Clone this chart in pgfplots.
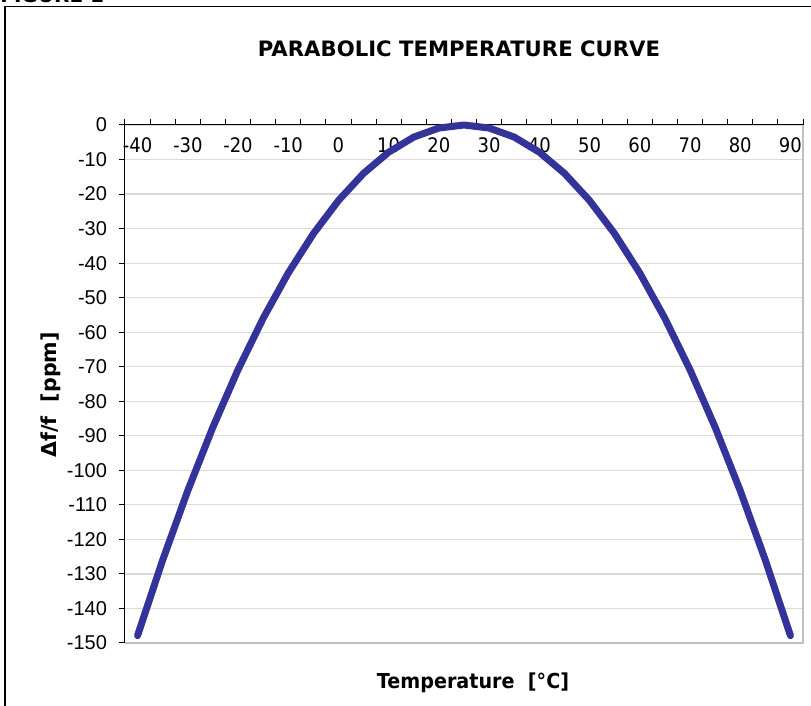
\documentclass[border=0pt]{standalone}
\usepackage{fontspec}
\setmainfont{DejaVu Sans}
\newfontfamily\tahoma{DejaVu Sans}[FakeStretch=0.9]
\newfontfamily\tahomaxl{DejaVu Sans}[FakeStretch=0.93]
\newfontfamily\arial{Liberation Sans}
\usepackage{pgfplots}
\usepackage{pgfplotstable}
\pgfplotsset{compat=1.18}
\definecolor{curvec}{RGB}{51,51,153}
\definecolor{gridc}{RGB}{217,217,217}
\definecolor{borderc}{RGB}{192,192,192}
\pgfplotstableread{
T dF
-40 -147.875
-35 -126
-30 -105.875
-25 -87.5
-20 -70.875
-15 -56
-10 -42.875
-5 -31.5
0 -21.875
5 -14
10 -7.875
15 -3.5
20 -0.875
25 0
30 -0.875
35 -3.5
40 -7.875
45 -14
50 -21.875
55 -31.5
60 -42.875
65 -56
70 -70.875
75 -87.5
80 -105.875
85 -126
90 -147.875
}\datatable
\begin{document}
\begin{tikzpicture}[x=1pt,y=1pt]
\begin{axis}[
 at={(62.5pt,-62.5pt)}, anchor=north west,
 scale only axis, width=339pt, height=259pt,
 xmin=-42.5, xmax=92.5, ymin=-150, ymax=0,
 axis line style={draw=none},
 xtick={-40,-30,...,90},
 xticklabels={-40,-30,-20,-10,0,10,20,30,40,50,60,70,80,90},
 minor xtick={-42.5,-37.5,...,92.5},
 xtick pos=right, xticklabel pos=right,
 major x tick style={draw=none},
 tick style={black, line width=0.5pt},
 xticklabel style={font=\tahoma\fontsize{10}{12}\selectfont, anchor=north, yshift=-5.7pt},
 ytick={-150,-140,...,0},
 yticklabels={-150,-140,-130,-120,-110,-100,-90,-80,-70,-60,-50,-40,-30,-20,-10,0},
 ytick pos=left,
 yticklabel style={font=\arial\fontsize{10}{12}\selectfont, xshift=-2.5pt},
 tick align=outside,
 major tick length=3pt, minor tick length=3pt,
 ymajorgrids, major grid style={gridc, line width=0.6pt},
 clip=false,
]
\draw[borderc, line width=1pt] (rel axis cs:0,0) -- (rel axis cs:1,0) -- (rel axis cs:1,1);
\draw[black, line width=0.5pt] (rel axis cs:0,0) -- (rel axis cs:0,1) -- (rel axis cs:1,1);
\addplot[curvec, line width=3.5pt, line cap=round, line join=round] table[x=T,y=dF]{\datatable};
\end{axis}
\node[font=\bfseries\fontsize{10.6}{12}\selectfont] at (229.5pt,-24.2pt) {PARABOLIC TEMPERATURE CURVE};
\node[font=\tahomaxl\bfseries\fontsize{10.3}{12}\selectfont] at (236.5pt,-341.5pt) {Temperature\ \ [°C]};
\node[rotate=90, font=\bfseries\fontsize{10.3}{12}\selectfont] at (25.5pt,-197.5pt) {Δf/f\ \ [ppm]};
\draw[black, line width=0.5pt] (2.5pt,-3.5pt) rectangle (420pt,-370pt);
\node[anchor=base west, inner sep=0pt, font=\bfseries\fontsize{10}{12}\selectfont] at (0pt,-1.5pt) {FIGURE 1};
\pgfresetboundingbox
\path[use as bounding box] (0pt,0pt) rectangle (405.5pt,-353pt);
\end{tikzpicture}
\end{document}
